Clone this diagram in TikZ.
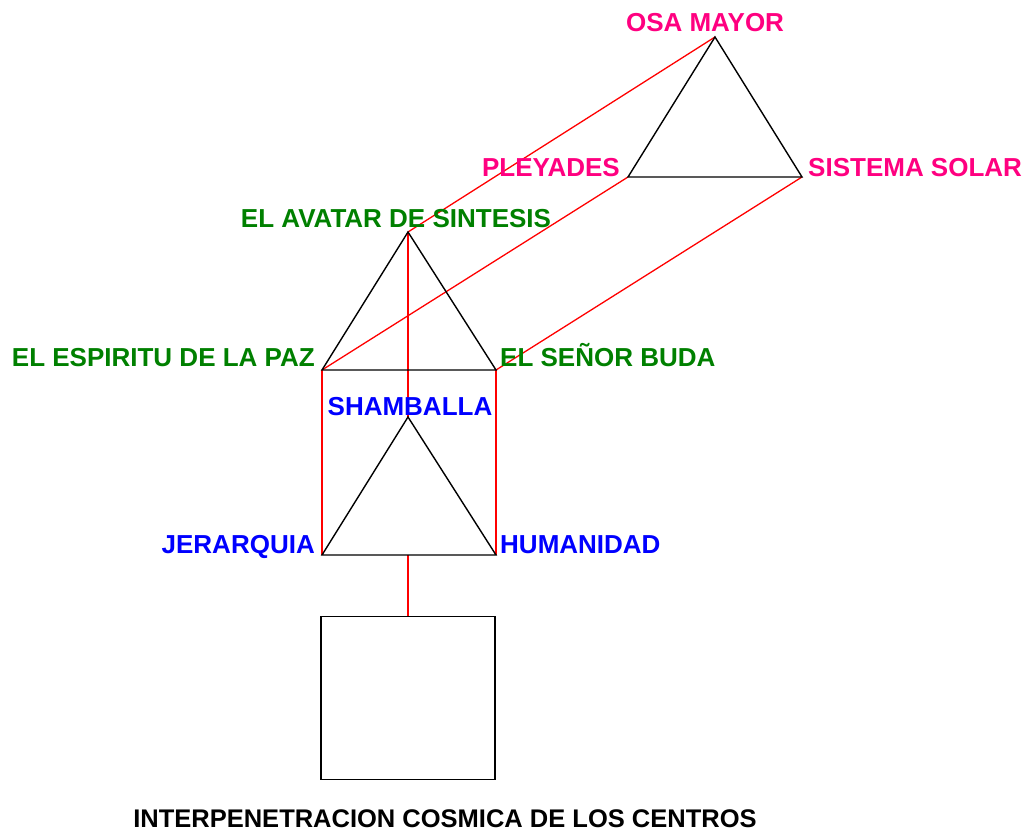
\documentclass[tikz,border=0pt]{standalone}
\usepackage{fontspec}
\setmainfont{Liberation Sans}
\definecolor{pinklbl}{RGB}{255,0,128}
\definecolor{greenlbl}{RGB}{0,128,0}
\definecolor{bluelbl}{RGB}{0,0,255}
\definecolor{redline}{RGB}{255,0,0}
\begin{document}
\begin{tikzpicture}[x=1pt,y=-1pt,
  blk/.style={draw=black,line width=1.4pt,line join=miter},
  rdl/.style={draw=redline,line width=1.3pt},
  lbl/.style={inner sep=0pt,font=\fontsize{26}{30}\selectfont\bfseries},
  pinkt/.style={lbl,text=pinklbl},
  greent/.style={lbl,text=greenlbl},
  bluet/.style={lbl,text=bluelbl},
  blackt/.style={lbl,text=black,font=\fontsize{25.5}{30}\selectfont\bfseries}]
\useasboundingbox (0,0) rectangle (1025,832);
% vertices
\coordinate (osa) at (715,37);
\coordinate (ple) at (628,177);
\coordinate (sol) at (802,177);
\coordinate (ava) at (408,232);
\coordinate (esp) at (322,370);
\coordinate (bud) at (496,370);
\coordinate (sha) at (408,417);
\coordinate (jer) at (322,555);
\coordinate (hum) at (496,555);
\coordinate (hb) at (408,555);
\coordinate (bt) at (408,616);
% red connections
\draw[rdl] (osa) -- (ava);
\draw[rdl] (ple) -- (esp);
\draw[rdl] (sol) -- (bud);
\draw[rdl] (ava) -- (sha);
\draw[rdl] (esp) -- (jer);
\draw[rdl] (bud) -- (hum);
\draw[rdl] (hb) -- (bt);
% triangles
\draw[blk] (osa) -- (ple) -- (sol) -- cycle;
\draw[blk] (ava) -- (esp) -- (bud) -- cycle;
\draw[blk] (sha) -- (jer) -- (hum) -- cycle;
% box
\node[blk,minimum width=174pt,minimum height=163pt,anchor=north,inner sep=0pt] (box) at (bt) {};
% labels
\node[pinkt,anchor=base] (tosa) at (705,32) {OSA MAYOR};
\node[pinkt,anchor=base east] (tple) at (620,176) {PLEYADES};
\node[pinkt,anchor=base west] (tsol) at (808,176) {SISTEMA SOLAR};
\node[greent,anchor=base] (tava) at (396,227) {EL AVATAR DE SINTESIS};
\node[greent,anchor=base east] (tesp) at (315,366) {EL ESPIRITU DE LA PAZ};
\node[greent,anchor=base west] (tbud) at (500,366) {EL SEÑOR BUDA};
\node[bluet,anchor=base] (tsha) at (410,415) {SHAMBALLA};
\node[bluet,anchor=base east] (tjer) at (315,553) {JERARQUIA};
\node[bluet,anchor=base west] (thum) at (500,553) {HUMANIDAD};
\node[blackt,anchor=base] (ttit) at (445,827) {INTERPENETRACION COSMICA DE LOS CENTROS};
\end{tikzpicture}
\end{document}
